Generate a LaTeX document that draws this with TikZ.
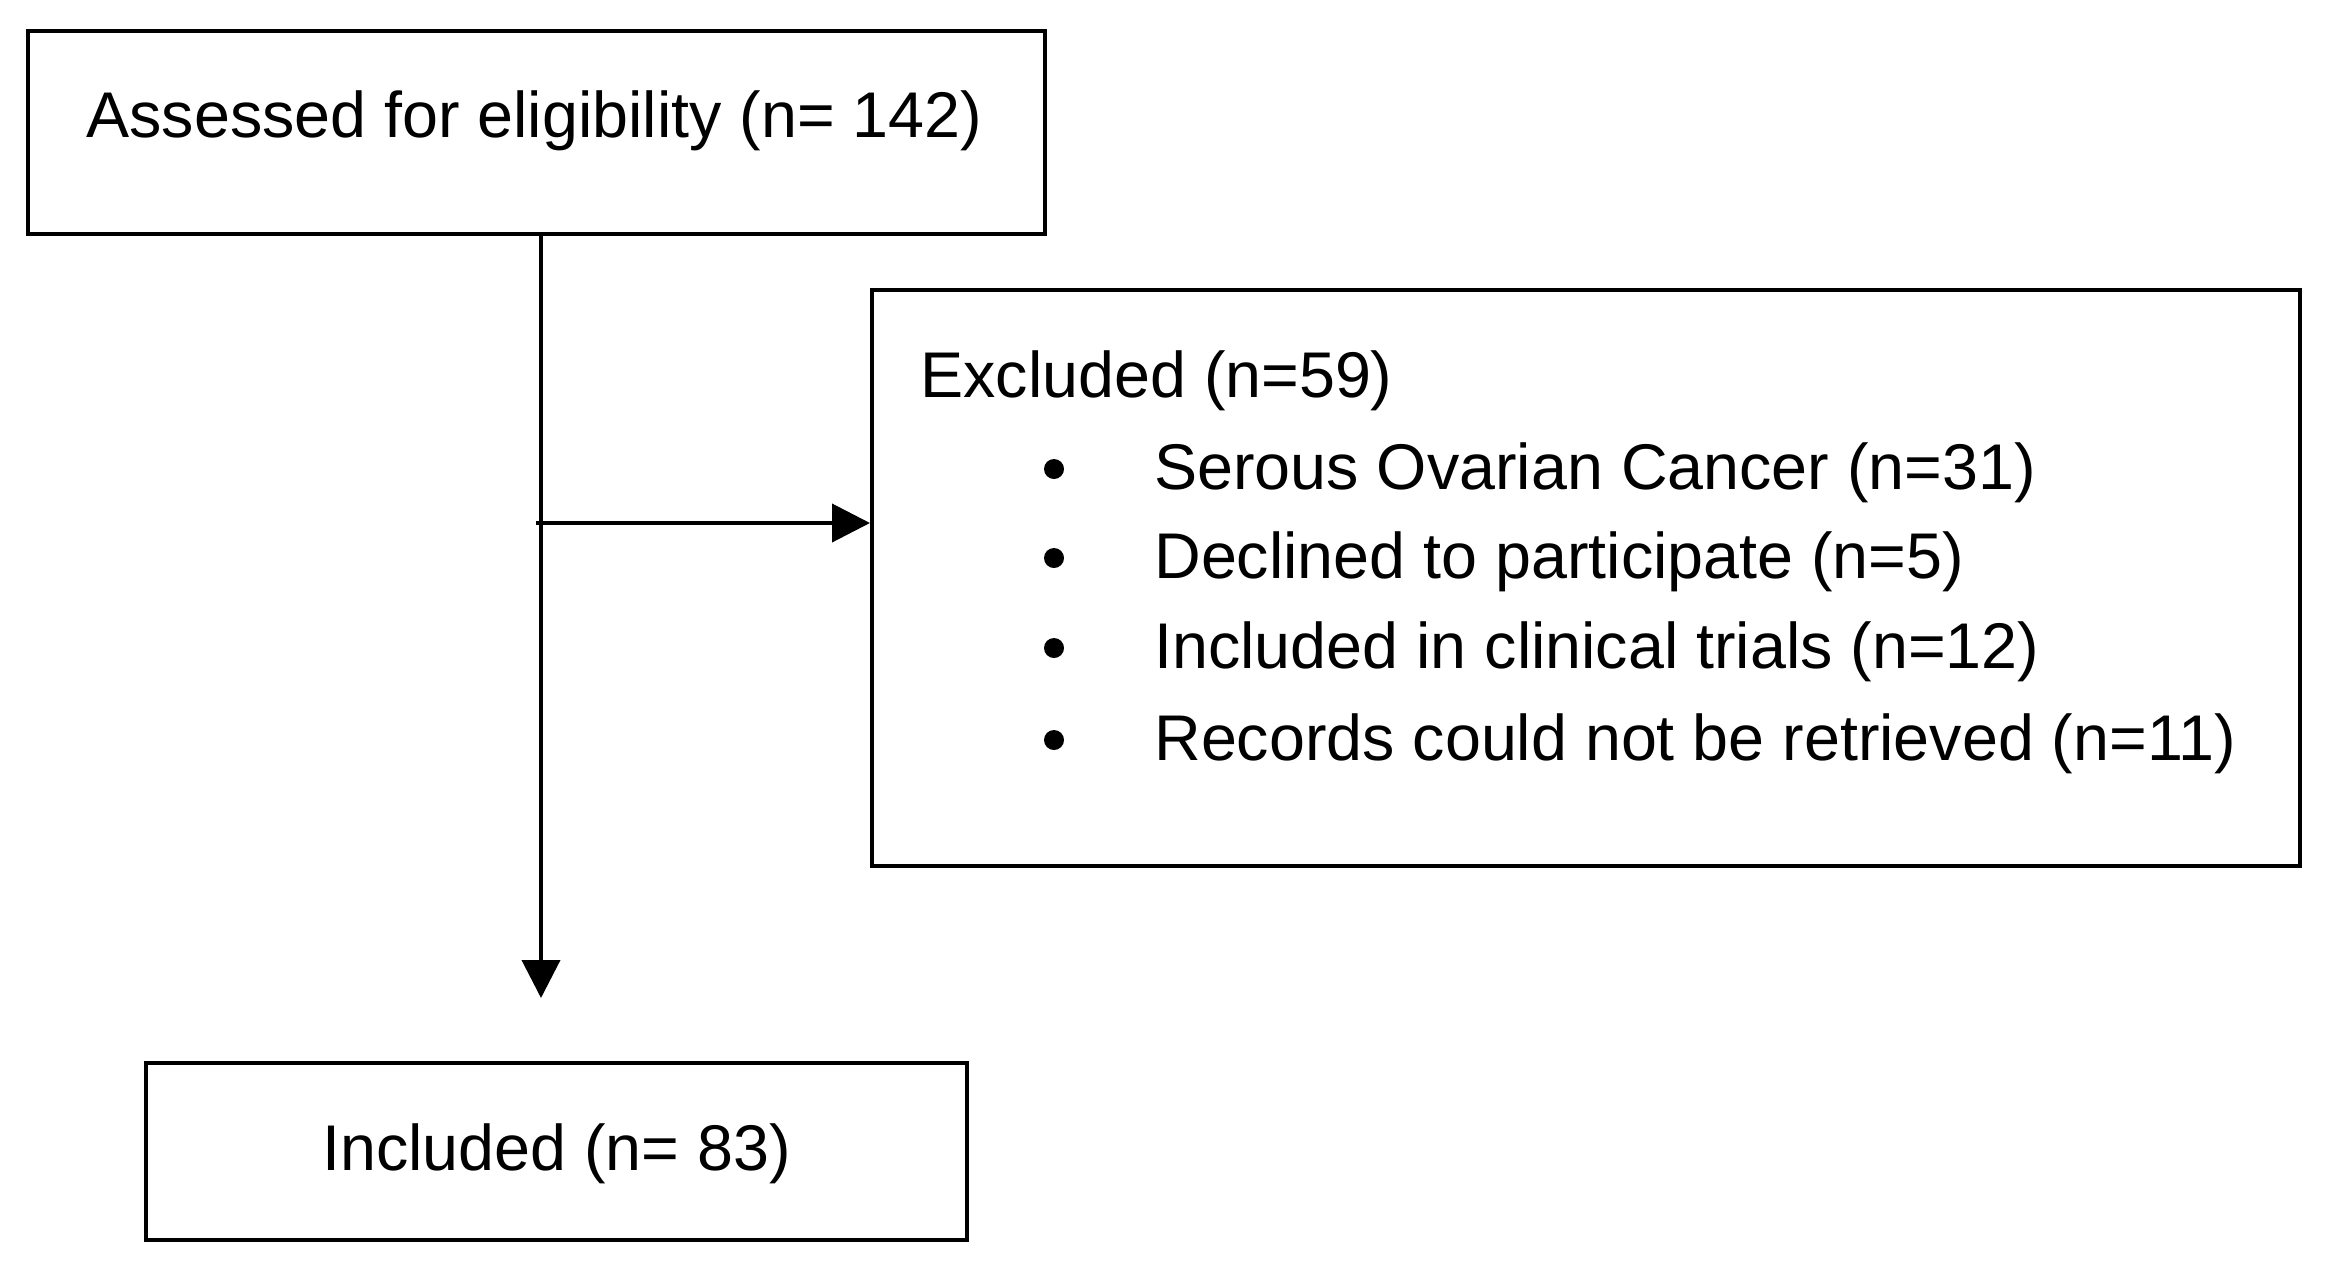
\documentclass[tikz,border=0pt]{standalone}
\usepackage{fontspec}
\setmainfont{Liberation Sans}
\usetikzlibrary{arrows.meta}
\begin{document}
\begin{tikzpicture}[x=0.5pt,y=-0.5pt,
  box/.style={draw, line width=2.2pt, inner sep=0pt, anchor=north west},
  txt/.style={anchor=base west, inner sep=0pt, font=\fontsize{32.3}{40}\selectfont},
  conn/.style={line width=2pt, -{Triangle[length=19pt,width=19pt]}},
  dot/.style={circle, fill, inner sep=0pt, minimum size=10pt}]
\useasboundingbox (0,0) rectangle (2326,1270);
% boxes
\node[box, minimum width=508.5pt, minimum height=101.5pt] (assess) at (26,29) {};
\node[box, minimum width=714pt, minimum height=288pt] (excl) at (870,288) {};
\node[box, minimum width=410.5pt, minimum height=88.5pt] (incl) at (144,1061) {};
% texts
\node[txt] (assesstxt) at (86,137) {Assessed for eligibility (n= 142)};
\node[txt] (excltxt) at (920,397) {Excluded (n=59)};
\node[txt] (e1) at (1154,489) {Serous Ovarian Cancer (n=31)};
\node[txt] (e2) at (1154,578) {Declined to participate (n=5)};
\node[txt] (e3) at (1154,668) {Included in clinical trials (n=12)};
\node[txt] (e4) at (1154,760) {Records could not be retrieved (n=11)};
\node[dot] (b1) at (1054,469) {};
\node[dot] (b2) at (1054,558) {};
\node[dot] (b3) at (1054,648) {};
\node[dot] (b4) at (1054,740) {};
\node[txt] (incltxt) at (322,1170) {Included (n= 83)};
% connectors
\coordinate (split) at (541,523);
\coordinate (branch) at (536,523);
\coordinate (down) at (541,998);
\draw[conn] (assess.south -| split) -- (down);
\draw[conn] (branch) -- (branch -| excl.west);
\end{tikzpicture}
\end{document}
